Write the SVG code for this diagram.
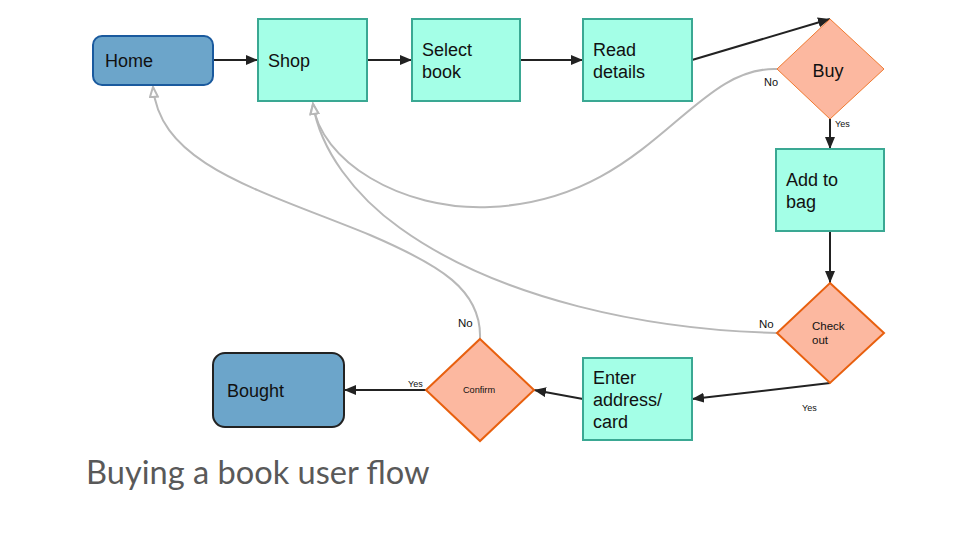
<svg xmlns="http://www.w3.org/2000/svg" width="960" height="540" viewBox="0 0 960 540">
<defs>
<style>
.proc{fill:#a4ffe7;stroke:#3aa893;stroke-width:2}
.term{fill:#6ca5ca;stroke-width:2}
.dec{fill:#fcb8a0;stroke:#e8600f;stroke-width:2}
.t{font-family:"Liberation Sans",Arial,sans-serif;font-size:18px;fill:#111}
.lbl{font-family:"Liberation Sans",Arial,sans-serif;fill:#111}
.flow{fill:none;stroke:#222;stroke-width:2}
.back{fill:none;stroke:#b8b8b8;stroke-width:2}
</style>
<marker id="ah" markerUnits="userSpaceOnUse" markerWidth="14" markerHeight="12" refX="12" refY="5" orient="auto">
<path d="M0,0 L12,5 L0,10 Z" fill="#222"/>
</marker>
<marker id="oh" markerUnits="userSpaceOnUse" markerWidth="14" markerHeight="12" refX="11" refY="5" orient="auto">
<path d="M1,1 L11,5 L1,9 Z" fill="#fff" stroke="#b8b8b8" stroke-width="2"/>
</marker>
</defs>
<rect width="960" height="540" fill="#fff"/>

<g id="connectors">
<path class="back" d="M777,69 C690,66 650,200 490,207 C400,211 320,160 313,104" marker-end="url(#oh)"/>
<path class="back" d="M777,333 C650,330 500,300 400,228 C355,196 320,150 313,104" marker-end="url(#oh)"/>
<path class="back" d="M480,339 C482,290 440,265 370,235 C260,190 160,165 153,87" marker-end="url(#oh)"/>
<line class="flow" x1="213" y1="60" x2="258" y2="60" marker-end="url(#ah)"/>
<line class="flow" x1="367" y1="60" x2="412" y2="60" marker-end="url(#ah)"/>
<line class="flow" x1="520" y1="60" x2="583" y2="60" marker-end="url(#ah)"/>
<line class="flow" x1="692" y1="60" x2="830" y2="19" marker-end="url(#ah)"/>
<line class="flow" x1="830" y1="119" x2="830" y2="149" marker-end="url(#ah)"/>
<line class="flow" x1="830" y1="231" x2="830" y2="283" marker-end="url(#ah)"/>
<line class="flow" x1="830" y1="383" x2="692" y2="399" marker-end="url(#ah)"/>
<line class="flow" x1="583" y1="399" x2="534" y2="390" marker-end="url(#ah)"/>
<line class="flow" x1="426" y1="390" x2="344" y2="390" marker-end="url(#ah)"/>
<text class="lbl" x="764" y="86" font-size="11">No</text>
<text class="lbl" x="835" y="127" font-size="9">Yes</text>
<text class="lbl" x="759" y="328" font-size="11.5">No</text>
<text class="lbl" x="802" y="411" font-size="9">Yes</text>
<text class="lbl" x="458" y="327" font-size="11.5">No</text>
<text class="lbl" x="408" y="387" font-size="9">Yes</text>
</g>

<g id="home">
<rect class="term" x="93" y="36" width="120" height="49" rx="9" stroke="#1a5a9e"/>
<text class="t" x="105" y="67">Home</text>
</g>
<g id="shop">
<rect class="proc" x="258" y="19" width="109" height="82"/>
<text class="t" x="268" y="67">Shop</text>
</g>
<g id="select-book">
<rect class="proc" x="412" y="19" width="108" height="82"/>
<text class="t" x="422" y="56">Select</text>
<text class="t" x="422" y="78">book</text>
</g>
<g id="read-details">
<rect class="proc" x="583" y="19" width="109" height="82"/>
<text class="t" x="593" y="56">Read</text>
<text class="t" x="593" y="78">details</text>
</g>
<g id="buy">
<polygon points="830,19 884,69 830,119 777,69" fill="#fcb8a0" stroke="#f07a30" stroke-width="1"/>
<text class="t" x="828" y="77" text-anchor="middle">Buy</text>
</g>
<g id="add-to-bag">
<rect class="proc" x="776" y="149" width="108" height="82"/>
<text class="t" x="786" y="186">Add to</text>
<text class="t" x="786" y="208">bag</text>
</g>
<g id="check-out">
<polygon class="dec" points="830,283 884,333 830,383 777,333"/>
<text class="lbl" x="812" y="330" font-size="11.5">Check</text>
<text class="lbl" x="812" y="344" font-size="11.5">out</text>
</g>
<g id="enter-address">
<rect class="proc" x="583" y="358" width="109" height="82"/>
<text class="t" x="593" y="384">Enter</text>
<text class="t" x="593" y="406">address/</text>
<text class="t" x="593" y="428">card</text>
</g>
<g id="confirm">
<polygon class="dec" points="480,339 534,390 480,441 426,390"/>
<text class="lbl" x="479" y="393" font-size="9.2" text-anchor="middle">Confirm</text>
</g>
<g id="bought">
<rect class="term" x="213" y="353" width="131" height="74" rx="12" stroke="#222"/>
<text class="t" x="227" y="397">Bought</text>
</g>

<text x="86" y="484" font-family="Lato,'Liberation Sans',sans-serif" font-size="32.6" fill="#595959">Buying a book user flow</text>
</svg>
